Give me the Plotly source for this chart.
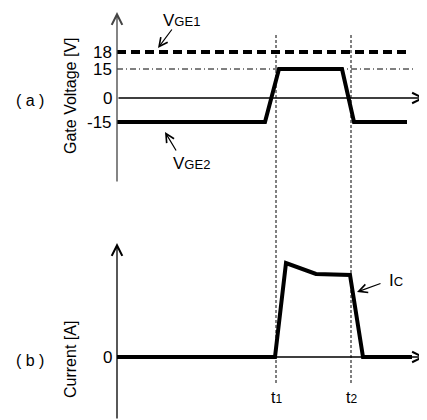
import numpy as np
import plotly.graph_objects as go

# ---- data (schematic waveforms) ----
# gate voltage waveform
t_vge = [0, 148, 162, 225, 237, 290]
vge = [-15, -15, 15, 15, -15, -15]
vge1_level = 18
vge1_t = [0, 290]
ref15_level = 15
ref15_t = [0, 298]
# voltage tick labels
v_ticks = [18, 15, 0, -15]
v_ticktext = ["18", "15", "0", "-15"]
# collector current (arbitrary units)
t_ic = [0, 158, 169, 199, 233, 246, 295]
ic = [0, 0, 94, 83, 82, 0, 0]
# switching instants
t_switch = [159, 234]
t_switch_labels = ["t<span style='font-size:12px'>1</span>", "t<span style='font-size:12px'>2</span>"]

# schematic (not-to-scale) voltage axis: level -> axis position
_axis_pos = [46, 29, 0, -24]
def vpos(v):
    order = np.argsort(v_ticks)
    return np.interp(v, np.array(v_ticks)[order], np.array(_axis_pos)[order])

FONT = "Liberation Sans, Arial, sans-serif"
W, H = 419, 412  # page body has an 8px margin
fig = go.Figure()

fig.add_trace(go.Scatter(x=vge1_t, y=vpos(np.full(2, vge1_level)), mode="lines",
                         line=dict(color="black", width=4, dash="9px,5px"),
                         xaxis="x", yaxis="y", showlegend=False, hoverinfo="skip"))
fig.add_trace(go.Scatter(x=ref15_t, y=vpos(np.full(2, ref15_level)), mode="lines",
                         line=dict(color="black", width=1, dash="6px,3px,1px,3px"),
                         xaxis="x", yaxis="y", showlegend=False, hoverinfo="skip"))
fig.add_trace(go.Scatter(x=t_vge, y=vpos(np.array(vge)), mode="lines",
                         line=dict(color="black", width=4),
                         xaxis="x", yaxis="y", showlegend=False, hoverinfo="skip"))
fig.add_trace(go.Scatter(x=t_ic, y=ic, mode="lines",
                         line=dict(color="black", width=4),
                         xaxis="x2", yaxis="y2", showlegend=False, hoverinfo="skip"))

ann = []
def arrow(x, y, ax, ay, xr, yr, color="black", w=1.3, head=5, size=1.6):
    ann.append(dict(x=x, y=y, ax=ax, ay=ay, xref=xr, yref=yr, axref=xr, ayref=yr,
                    showarrow=True, arrowhead=head, arrowsize=size, arrowwidth=w,
                    arrowcolor=color, text=""))

def label(x, y, text, xr, yr, size=16, xanchor="center", angle=0):
    ann.append(dict(x=x, y=y, xref=xr, yref=yr, text=text, showarrow=False,
                    xanchor=xanchor, yanchor="middle", textangle=angle,
                    font=dict(family=FONT, size=size, color="black")))

# axes (top)
arrow(0, 86, 0, -85, "x", "y", color="#444")
arrow(308, 0, 0, 0, "x", "y")
# axes (bottom)
arrow(0, 114, 0, -63, "x2", "y2")
arrow(308, 0, 0, 0, "x2", "y2")

# callout arrows
arrow(41, 50, 56, 70, "x", "y", w=1.2, head=5, size=1.4)
arrow(48, -34, 60, -54, "x", "y", w=1.2, head=5, size=1.4)
arrow(240, 65, 265, 74, "x2", "y2", w=1.2, head=5, size=1.4)

# tick labels
for v, txt in zip(v_ticks, v_ticktext):
    label(-3, float(vpos(v)), txt, "x", "y", size=17, xanchor="right")
label(-3, 0, "0", "x2", "y2", size=17, xanchor="right")

# text labels
label(-87, -2, "( a )", "x", "y", size=16)
label(-47, 2, "Gate Voltage [V]", "x", "y", size=16, angle=-90)
label(-87, -3, "( b )", "x2", "y2", size=16)
label(-47, -3, "Current [A]", "x2", "y2", size=16, angle=-90)
label(64, 78, "V<span style='font-size:13px'>GE1</span>", "x", "y", size=17)
label(74, -65, "V<span style='font-size:13px'>GE2</span>", "x", "y", size=17)
label(279, 77, "I<span style='font-size:13px'>C</span>", "x2", "y2", size=17)
# axis-end time labels (at the right page edge)
label(412 / W, 1 - 104 / H, "t", "paper", "paper", size=17, xanchor="left")
label(410 / W, 1 - 370 / H, "t", "paper", "paper", size=17, xanchor="left")
for ts, tl in zip(t_switch, t_switch_labels):
    label(ts, -40, tl, "x2", "y2", size=16)

shapes = []
for ts in t_switch:
    shapes.append(dict(type="line", xref="x", yref="paper", x0=ts, x1=ts,
                       y0=1 - 375 / H, y1=1 - 25 / H,
                       line=dict(color="black", width=1, dash="3px,2px")))

ax_common = dict(range=[-109, 310], visible=False, showgrid=False, zeroline=False, fixedrange=True)
fig.update_layout(
    width=W, height=H, margin=dict(l=0, r=0, t=0, b=0),
    paper_bgcolor="white", plot_bgcolor="white",
    xaxis=dict(domain=[0, 1], anchor="y", **ax_common),
    xaxis2=dict(domain=[0, 1], anchor="y2", **ax_common),
    yaxis=dict(domain=[1 - 202 / H, 1], range=[-112, 90], visible=False, showgrid=False, zeroline=False),
    yaxis2=dict(domain=[0, 210 / H], range=[-63, 147], visible=False, showgrid=False, zeroline=False),
    annotations=ann, shapes=shapes, showlegend=False,
    font=dict(family=FONT),
)
fig.write_html("out.html")
